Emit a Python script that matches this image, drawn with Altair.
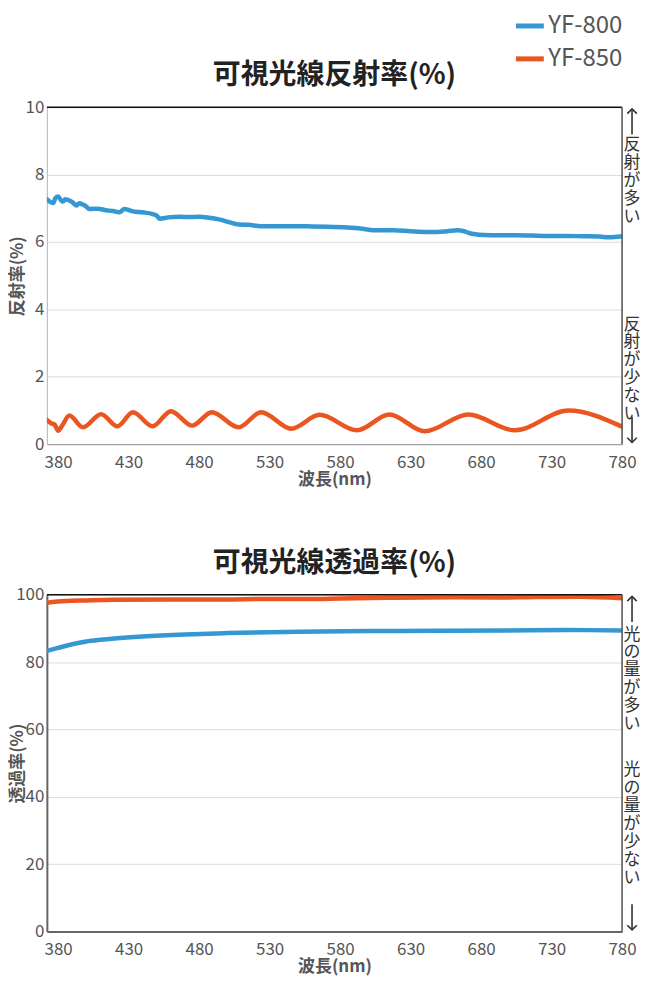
import altair as alt
import pandas as pd

FONT = "Noto Sans CJK JP"
series_names = ["YF-800", "YF-850"]
series_colors = ["#3598d3", "#ea5520"]
x_ticks = [380, 430, 480, 530, 580, 630, 680, 730, 780]

# Reflectance (%) YF-800
refl800_nm = [372, 374, 376.5, 378, 380, 382, 383.5, 385, 387, 390.5, 393, 395, 397.5, 400, 402,
              408, 414, 419, 423.5, 427, 430, 433, 440, 447, 450, 452, 458, 466, 473, 480, 487,
              494, 501, 508, 515, 524, 535, 548, 560, 571, 583, 594.5, 604, 618, 630, 642, 649,
              656, 663, 668, 672, 676, 681.6, 693, 705, 716, 728, 740, 752, 764, 770.6, 780]
refl800_val = [7.27, 7.20, 7.16, 7.30, 7.35, 7.24, 7.20, 7.27, 7.25, 7.17, 7.08, 7.15, 7.11, 7.05, 6.98,
               6.99, 6.94, 6.92, 6.88, 6.98, 6.95, 6.91, 6.88, 6.83, 6.78, 6.69, 6.73, 6.75, 6.74, 6.75, 6.72,
               6.67, 6.59, 6.52, 6.51, 6.47, 6.47, 6.47, 6.46, 6.45, 6.44, 6.40, 6.35, 6.35, 6.32, 6.30, 6.30,
               6.32, 6.35, 6.32, 6.26, 6.23, 6.21, 6.20, 6.20, 6.19, 6.18, 6.18, 6.17, 6.16, 6.14, 6.17]

# Reflectance (%) YF-850
refl850_nm = [372, 375, 377.5, 380, 382.5, 388, 397.5, 410.5, 422, 433, 447, 460, 475, 489, 508,
              524, 545.5, 565.5, 592, 615, 640, 671, 704, 742, 780]
refl850_val = [0.72, 0.62, 0.58, 0.40, 0.53, 0.85, 0.50, 0.89, 0.53, 0.95, 0.53, 0.98, 0.55, 0.95, 0.50,
               0.95, 0.46, 0.87, 0.41, 0.88, 0.38, 0.88, 0.41, 1.00, 0.52]

# Transmittance (%) YF-800
trans800_nm = [372, 380, 390, 400, 410, 420, 440, 470, 500, 550, 600, 650, 700, 740, 780]
trans800_val = [83.3, 84.2, 85.3, 86.1, 86.6, 87.0, 87.6, 88.2, 88.6, 89.0, 89.2, 89.3, 89.4, 89.5, 89.4]

# Transmittance (%) YF-850
trans850_nm = [372, 385, 400, 420, 460, 480, 500, 530, 560, 580, 620, 660, 690, 720, 750, 780]
trans850_val = [97.6, 98.1, 98.3, 98.5, 98.6, 98.55, 98.6, 98.75, 98.7, 98.9, 99.1, 99.2, 99.15, 99.3, 99.35, 98.9]

X_DOMAIN = [372, 780]
W, H = 577, 338
NOTE_X = 587
ARROW_GAP = 0.005   # fraction of the y range between the frame and the arrow tip
ARROW_LEN = 0.076   # arrow length as a fraction of the y range
HEAD_UP = "M-1,1L0,0L1,1"
HEAD_DOWN = "M-1,-1L0,0L1,-1"

LEGEND = alt.Legend(title=None, orient="none", legendX=468, legendY=-98, padding=0,
                    symbolType="stroke", symbolStrokeWidth=5, symbolSize=784,
                    labelFontSize=24, labelColor="#555", labelFont=FONT,
                    rowPadding=4, labelOffset=2)


def frame(nm800, v800, nm850, v850):
    rows = [{"nm": a, "value": b, "series": series_names[0]} for a, b in zip(nm800, v800)]
    rows += [{"nm": a, "value": b, "series": series_names[1]} for a, b in zip(nm850, v850)]
    return pd.DataFrame(rows)


def panel(df, ymax, ystep, ytitle, title, up_text, down_text, down_dy,
          left_color, left_w, bottom_color, up_dy):
    one = pd.DataFrame({"k": [0]})
    lines = alt.Chart(df).mark_line(strokeWidth=4.5, strokeCap="round", strokeJoin="round",
                                    interpolate="monotone", clip=True).encode(
        x=alt.X("nm:Q", scale=alt.Scale(domain=X_DOMAIN, nice=False, zero=False),
                axis=alt.Axis(values=x_ticks, title="波長(nm)", grid=False, ticks=False,
                              labelFlush=False,
                              labelFontSize=17, labelColor="#555", labelPadding=10,
                              titleFontSize=17, titleFontWeight="bold", titleColor="#555",
                              titlePadding=1, domainColor=bottom_color, domainWidth=left_w,
                              labelFont=FONT, titleFont=FONT)),
        y=alt.Y("value:Q", scale=alt.Scale(domain=[0, ymax], nice=False),
                axis=alt.Axis(values=list(range(0, ymax + 1, ystep)), title=ytitle,
                              grid=True, gridColor="#dcdcdc", ticks=False,
                              labelFontSize=17, labelColor="#555", labelPadding=3,
                              titleFontSize=17, titleFontWeight="bold", titleColor="#555",
                              titleX=-20, titleBaseline="bottom",
                              domainColor=left_color, domainWidth=left_w,
                              labelFont=FONT, titleFont=FONT)),
        color=alt.Color("series:N", scale=alt.Scale(domain=series_names, range=series_colors),
                        legend=LEGEND),
    )
    top_rule = alt.Chart(one).mark_rule(color="#111", strokeWidth=1.5).encode(y=alt.datum(ymax))
    right_rule = alt.Chart(one).mark_rule(color="#555", strokeWidth=1.5).encode(x=alt.datum(X_DOMAIN[1]))

    up_tip = ymax * (1 - ARROW_GAP)
    up_end = ymax * (1 - ARROW_GAP - ARROW_LEN)
    dn_tip = ymax * ARROW_GAP
    dn_end = ymax * (ARROW_GAP + ARROW_LEN)
    up_shaft = alt.Chart(one).mark_rule(color="#333", strokeWidth=1.6).encode(
        x=alt.value(NOTE_X), y=alt.datum(up_tip), y2=alt.datum(up_end))
    dn_shaft = alt.Chart(one).mark_rule(color="#333", strokeWidth=1.6).encode(
        x=alt.value(NOTE_X), y=alt.datum(dn_tip), y2=alt.datum(dn_end))
    up_head = alt.Chart(one).mark_point(shape=HEAD_UP, size=90, filled=False, strokeWidth=1.6,
                                        color="#333", opacity=1).encode(
        x=alt.value(NOTE_X), y=alt.datum(up_tip))
    dn_head = alt.Chart(one).mark_point(shape=HEAD_DOWN, size=90, filled=False, strokeWidth=1.6,
                                        color="#333", opacity=1).encode(
        x=alt.value(NOTE_X), y=alt.datum(dn_tip))

    up_label = alt.Chart(one).mark_text(text=up_text, baseline="top", align="center", fontSize=17,
                                        font=FONT, color="#333", lineBreak="\n", lineHeight=18,
                                        dy=up_dy).encode(
        x=alt.value(NOTE_X), y=alt.datum(ymax))
    down_label = alt.Chart(one).mark_text(text=down_text, baseline="top", align="center", fontSize=17,
                                          font=FONT, color="#333", lineBreak="\n", lineHeight=18,
                                          dy=down_dy).encode(
        x=alt.value(NOTE_X), y=alt.datum(0))
    return alt.layer(lines, top_rule, right_rule, up_shaft, dn_shaft, up_head, dn_head,
                     up_label, down_label).properties(
        width=W, height=H,
        title=alt.TitleParams(title, fontSize=28, fontWeight="bold", color="#222", font=FONT, offset=8),
    )


top = panel(frame(refl800_nm, refl800_val, refl850_nm, refl850_val), 10, 2, "反射率(%)",
            "可視光線反射率(%)", "反\n射\nが\n多\nい", "反\n射\nが\n少\nな\nい", -128,
            "#bbbbbb", 1, "#999999", 30)
bottom = panel(frame(trans800_nm, trans800_val, trans850_nm, trans850_val), 100, 20, "透過率(%)",
               "可視光線透過率(%)", "光\nの\n量\nが\n多\nい", "光\nの\n量\nが\n少\nな\nい", -170,
               "#666666", 2, "#666666", 32)

chart = alt.vconcat(top, bottom, spacing=61).properties(
    padding={"left": 0, "top": 0, "right": 0, "bottom": 0}
).configure_view(stroke=None).configure(font=FONT)

chart.save("out.html", embed_options={"renderer": "svg", "actions": False})
